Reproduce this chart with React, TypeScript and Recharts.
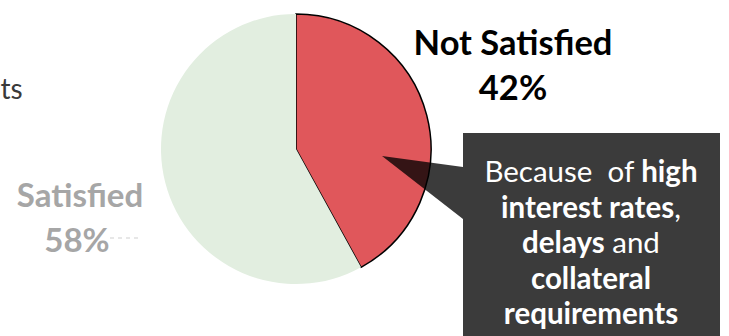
import React from 'react';
import { PieChart, Pie, Cell } from 'recharts';

const categories = ['Not Satisfied', 'Satisfied'];
const values = [42, 58];
const colors = ['#E0575B', '#E2EEE0'];
const calloutLines = [
  [{ t: 'Because  of ', b: false }, { t: 'high', b: true }],
  [{ t: 'interest rates', b: true }, { t: ',', b: false }],
  [{ t: 'delays', b: true }, { t: ' and', b: false }],
  [{ t: 'collateral', b: true }],
  [{ t: 'requirements', b: true }],
];

const data = categories.map((name, i) => ({ name, value: values[i] }));

const W = 729;
const H = 336;
const CX = 296;
const CY = 149;
const R = 135;
const FONT = 'Lato, "Open Sans", sans-serif';

export default function App() {
  return (
    <div style={{ position: 'absolute', left: 0, top: 0, width: W, height: H, background: '#fff' }}>
      <PieChart width={W} height={H} margin={{ top: 0, right: 0, bottom: 0, left: 0 }}>
        <text x={0.5} y={99} textAnchor="start" fontFamily={FONT} fontSize={28} fill="#3a3a3a">ts</text>
        <Pie
          data={data}
          dataKey="value"
          nameKey="name"
          cx={CX}
          cy={CY}
          outerRadius={R}
          innerRadius={0}
          startAngle={90}
          endAngle={-270}
          isAnimationActive={false}
          label={false}
          labelLine={false}
        >
          {data.map((d, i) => (
            <Cell
              key={d.name}
              fill={colors[i]}
              stroke={i === 0 ? '#000' : colors[i]}
              strokeWidth={i === 0 ? 1.5 : 0}
            />
          ))}
        </Pie>
        <text x={513} textAnchor="middle" fontFamily={FONT} fontWeight={700} fontSize={34.5} fill="#000">
          <tspan x={513} y={55}>{categories[0]}</tspan>
          <tspan x={513} y={100}>{values[0]}%</tspan>
        </text>
        <text x={80} textAnchor="middle" fontFamily={FONT} fontWeight={700} fontSize={33} fill="#A6A6A6">
          <tspan x={80} y={207}>{categories[1]}</tspan>
          <tspan x={77} y={252}>{values[1]}%</tspan>
        </text>
        <line x1={110} y1={238} x2={138} y2={238} stroke="#cfcfcf" strokeWidth={1} strokeDasharray="4 4" />
      </PieChart>
      <svg
        width={W}
        height={H}
        style={{ position: 'absolute', left: 0, top: 0, pointerEvents: 'none' }}
      >
        <path
          d={`M463,133 L720,133 L720,${H} L463,${H} L463,219 L${CX + 86},${CY + 7} L463,167 Z`}
          fill="#000"
          fillOpacity={0.77}
        />
        <text textAnchor="middle" fontFamily={FONT} fontSize={29.5} fill="#fff" style={{ whiteSpace: 'pre' }}>
          {calloutLines.map((line, li) => (
            <tspan key={li} x={591} y={182 + li * 35.5}>
              {line.map((seg, si) => (
                <tspan key={si} fontWeight={seg.b ? 700 : 400}>{seg.t}</tspan>
              ))}
            </tspan>
          ))}
        </text>
      </svg>
    </div>
  );
}
